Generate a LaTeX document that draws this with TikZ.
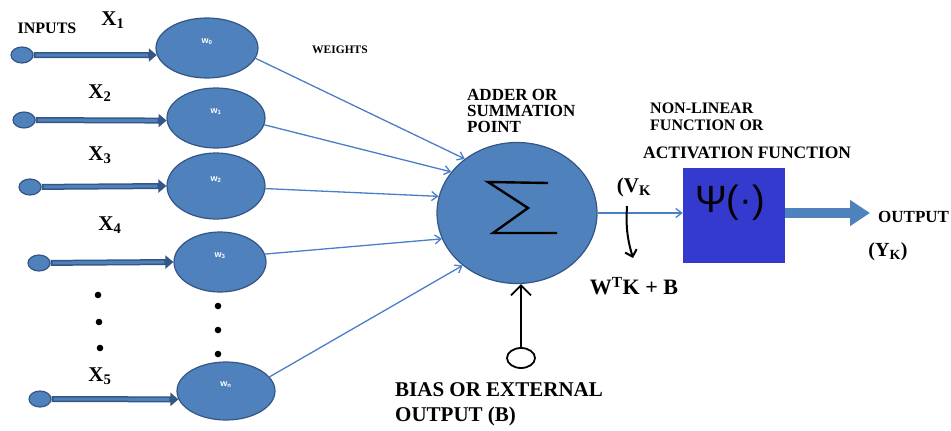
\documentclass[tikz,border=0pt]{standalone}
\usepackage{fontspec}
\setmainfont{Liberation Serif}
\newfontfamily\wfont{Liberation Sans}
\usetikzlibrary{arrows.meta,shapes.geometric}
\definecolor{cellfill}{RGB}{79,129,189}
\definecolor{celledge}{RGB}{52,86,132}
\definecolor{linkblue}{RGB}{74,126,200}
\definecolor{actblue}{RGB}{52,58,205}

\begin{document}
\begin{tikzpicture}[x=1pt,y=-1pt,
  lbl/.style={font=\bfseries\fontsize{11.5}{14}\selectfont, inner sep=0pt},
  biglbl/.style={font=\bfseries\fontsize{17}{16}\selectfont, inner sep=0pt},
  xlbl/.style={font=\bfseries\fontsize{21}{22}\selectfont, inner sep=0pt},
  wcell/.style={ellipse, fill=cellfill, draw=celledge, line width=1.2pt,
    minimum width=98pt, minimum height=60pt, inner sep=0pt},
  wtext/.style={text=white, font=\wfont\bfseries\fontsize{9}{9}\selectfont, yshift=6pt},
  knob/.style={ellipse, fill=cellfill, draw=celledge, line width=1.2pt,
    minimum width=22pt, minimum height=16pt, inner sep=0pt},
  inshaft/.style={draw=celledge, line width=6pt,
    -{Triangle[length=8pt,width=13pt]}},
  inshaftcore/.style={draw=cellfill, line width=3pt, shorten >=9pt, shorten <=2pt},
  link/.style={draw=linkblue, line width=1.3pt,
    -{Straight Barb[length=6pt,width=9pt,line width=1.3pt]}},
  blackarrow/.style={draw=black, line width=1.8pt,
    -{Straight Barb[length=10pt,width=20pt,line width=1.8pt]}},
  dot/.style={fill=black}
]
\useasboundingbox (0,0) rectangle (951,431);

% weight cells
\node[wcell, minimum width=102pt, minimum height=60pt,
      label={[wtext]center:w\textsubscript{0}}] (w1) at (207,48) {};
\node[wcell, minimum width=98pt, minimum height=60pt,
      label={[wtext]center:w\textsubscript{1}}] (w2) at (216,118) {};
\node[wcell, minimum width=98pt, minimum height=66pt,
      label={[wtext]center:w\textsubscript{2}}] (w3) at (216,186) {};
\node[wcell, minimum width=92pt, minimum height=60pt,
      label={[wtext]center:w\textsubscript{3}}] (w4) at (220,262) {};
\node[wcell, minimum width=98pt, minimum height=58pt,
      label={[wtext]center:w\textsubscript{n}}] (w5) at (226,391) {};

% input terminals
\node[knob] (c1) at (22,55) {};
\node[knob] (c2) at (24,120) {};
\node[knob] (c3) at (30,187) {};
\node[knob] (c4) at (39,263) {};
\node[knob] (c5) at (40,399) {};

% input shafts
\foreach \c/\w/\a in {c1/w1/188, c2/w2/183, c3/w3/180, c4/w4/180, c5/w5/190}{
  \draw[inshaft] (\c) -- (\w.\a);
  \draw[inshaftcore] (\c) -- (\w.\a);
}

% summation point
\node[ellipse, fill=cellfill, draw=celledge, line width=1.2pt,
      minimum width=160pt, minimum height=141pt, inner sep=0pt] (sum) at (517,213) {};
\draw[line width=2.4pt, line join=miter]
  ([shift={(31,-30)}]sum.center) -- ([shift={(-29,-31)}]sum.center)
  -- ([shift={(11,-5)}]sum.center) -- ([shift={(-24,20)}]sum.center)
  -- ([shift={(40,20)}]sum.center);

% weighted links
\draw[link] (w1.-12) -- (sum.134);
\draw[link] (w2.-8) -- (sum.148);
\draw[link] (w3.-3) -- (sum.168);
\draw[link] (w4.10) -- (sum.199);
\draw[link] (w5.18) -- (sum.224);

% activation block
\node[rectangle, fill=actblue, minimum width=102pt, minimum height=95pt,
      inner sep=0pt] (act) at (734,215) {};
\node[inner sep=0pt, font=\wfont\fontsize{38}{38}\selectfont] (psi) at (730,203)
  {Ψ(·)};
\draw[link] (sum.east) -- (act.west |- sum.east);

% output arrow
\coordinate (outtip) at (870,213);
\draw[draw=cellfill, line width=10pt, -{Triangle[length=20pt,width=25pt]}]
  (act.east |- outtip) -- (outtip);

% bias input
\node[ellipse, draw=black, fill=white, line width=1.8pt,
      minimum width=28pt, minimum height=20pt, inner sep=0pt] (bias) at (521,358) {};
\draw[blackarrow] (bias.north) -- (sum.south -| bias.north);

% induced field arrow
\coordinate (vka) at (627,206);
\coordinate (vkb) at (633,258);
\draw[draw=black, line width=2pt,
      -{Straight Barb[length=6pt,width=12pt,line width=2pt]}]
  (vka) to[bend right=10] (vkb);

% dots for omitted inputs
\foreach \p in {(98,295),(99,322),(100,348),(218,306),(218,330),(218,354)}
  \fill[dot] \p circle[radius=3.3pt];

% labels
\node[font=\bfseries\fontsize{16}{16}\selectfont, inner sep=0pt] (tin) at (47,28) {INPUTS};
\node[xlbl] (x1) at (113,20) {X\textsubscript{1}};
\node[xlbl] (x2) at (100,93) {X\textsubscript{2}};
\node[xlbl] (x3) at (100,155) {X\textsubscript{3}};
\node[xlbl] (x4) at (110,225) {X\textsubscript{4}};
\node[xlbl] (x5) at (100,376) {X\textsubscript{5}};
\node[lbl] (tw) at (340,50) {WEIGHTS};
\node[biglbl, anchor=north west, align=left] (tadd) at (467,89)
  {ADDER OR\\SUMMATION\\POINT};
\node[inner sep=0pt, anchor=north west, align=left,
      font=\bfseries\fontsize{16}{17}\selectfont]
  (tnl) at (650,103) {NON-LINEAR\\FUNCTION OR};
\node[font=\bfseries\fontsize{17.5}{17}\selectfont, inner sep=0pt, anchor=west]
  (tact) at (643,153) {ACTIVATION FUNCTION};
\node[inner sep=0pt, font=\bfseries\fontsize{21}{21}\selectfont] (tvk) at (634,187)
  {(V\textsubscript{K}};
\node[inner sep=0pt, font=\bfseries\fontsize{22}{22}\selectfont] (twk) at (634,286)
  {W\textsuperscript{T}K + B};
\node[font=\bfseries\fontsize{17}{17}\selectfont, inner sep=0pt, anchor=west]
  (tout) at (878,217) {OUTPUT};
\node[inner sep=0pt, font=\bfseries\fontsize{20}{20}\selectfont] (tyk) at (888,252)
  {(Y\textsubscript{K})};
\node[inner sep=0pt, anchor=north west, align=left,
      font=\bfseries\fontsize{21}{25}\selectfont] (tbias) at (395,382)
  {BIAS OR EXTERNAL\\OUTPUT (B)};
\end{tikzpicture}
\end{document}
